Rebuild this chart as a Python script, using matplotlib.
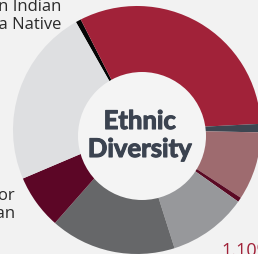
import matplotlib.pyplot as plt
import matplotlib.patheffects as pe
from matplotlib.patches import Circle

# slices, clockwise from the small black one at the top left
groups = ["American Indian or Alaska Native", "White", "Asian", "Hispanic or Latino",
          "Native Hawaiian or Pacific Islander", "Two or More", "Unknown",
          "Black or African American", "Nonresident"]
shares = [0.7, 31.7, 1.1, 8.9, 0.6, 10.3, 16.4, 7.1, 23.2]
colors = ["#050505", "#a12239", "#3d4651", "#9e6b6f", "#5b0a24",
          "#97989b", "#666769", "#5c0626", "#dedfe1"]

W, H = 258, 255
fig = plt.figure(figsize=(W / 100, H / 100), dpi=100)
fig.patch.set_facecolor("#f2f2f2")
ax = fig.add_axes([0, 0, 1, 1])
ax.set_facecolor("#f2f2f2")

ax.pie(shares, colors=colors, startangle=119.5, counterclock=False,
       center=(137, H - 131), radius=124,
       wedgeprops=dict(linewidth=0, antialiased=True))

# centre disc with title
ax.add_patch(Circle((142, H - 137), 64, facecolor="#f4f4f4", edgecolor="none", zorder=3))
ax.text(140, H - 136, "Ethnic\nDiversity", ha="center", va="center",
        fontsize=18.5, fontweight="bold", family="Lato", color="#3b4350",
        linespacing=1.2, zorder=4,
        path_effects=[pe.withStroke(linewidth=0.8, foreground="#3b4350")])

# outside labels (cut by the frame)
ax.text(61, H - 16, "American Indian\nor Alaska Native", ha="right", va="center",
        fontsize=12, family="Open Sans", color="#2b2b2b", linespacing=1.1)
ax.text(15, H - 205, "Black or\nAfrican American", ha="right", va="center",
        fontsize=12, family="Open Sans", color="#2b2b2b", linespacing=1.1)
ax.text(221, H - 251, "1.10%", ha="left", va="center",
        fontsize=13, family="Open Sans", color="#a12239")

ax.set_xlim(0, W)
ax.set_ylim(0, H)
ax.set_aspect("auto")
ax.axis("off")

fig.savefig("out.png", dpi=100, facecolor=fig.get_facecolor())
